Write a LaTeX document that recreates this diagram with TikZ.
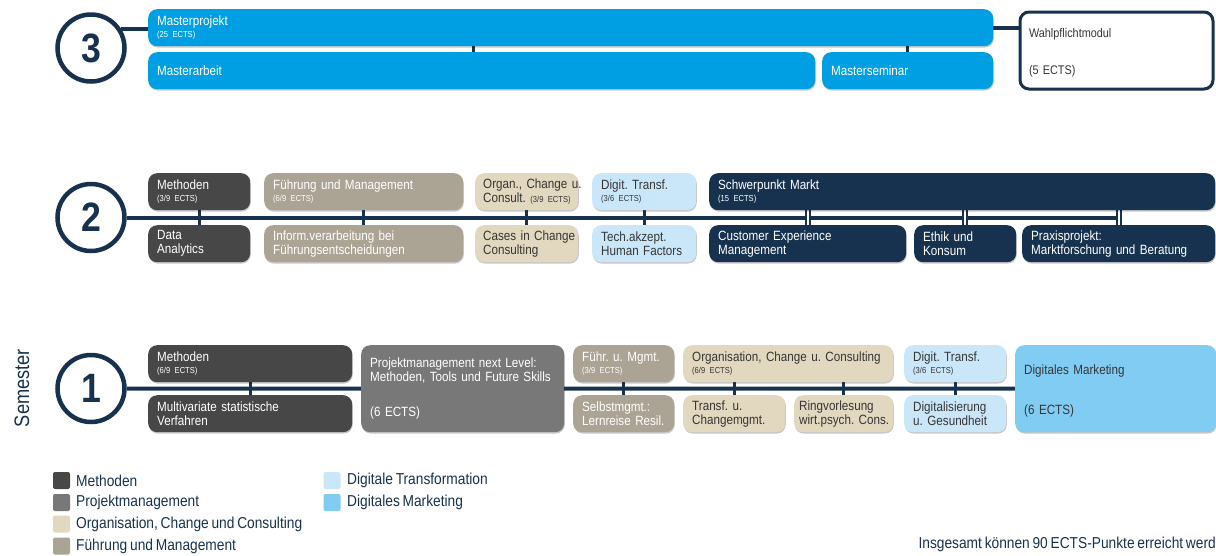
\documentclass[tikz,border=0pt]{standalone}
\usepackage{fontspec}
\setmainfont{Liberation Sans}[FakeStretch=0.87, WordSpace=0.72]
\usetikzlibrary{shadows,backgrounds}
\definecolor{mblue}{HTML}{009FE3}
\definecolor{navy}{HTML}{17324F}
\definecolor{dgray}{HTML}{474747}
\definecolor{mgray}{HTML}{787878}
\definecolor{taupe}{HTML}{ABA494}
\definecolor{beige}{HTML}{E2D7BF}
\definecolor{lblue}{HTML}{CAE7F9}
\definecolor{dmblue}{HTML}{80CCF2}
\definecolor{dtext}{HTML}{363636}
\newcommand\bxfont{\frenchspacing\fontsize{13.4}{14}\selectfont}
\newcommand\ectsx[1]{{\fontsize{8.7}{9}\selectfont(#1)}}
\hfuzz=50pt
\frenchspacing
\begin{document}
\begin{tikzpicture}[x=1pt,y=-1pt,
  mod/.style n args={4}{anchor=north west, fill=#3, text=#4, text width=#1,
    minimum height=#2, inner xsep=9pt, inner ysep=1pt, align=left,
    rounded corners=9pt, font=\bxfont,
    drop shadow={shadow xshift=0.6pt, shadow yshift=-1.4pt, opacity=0.22, fill=black}},
  semcirc/.style={circle, draw=navy, line width=4.5pt, fill=white, minimum size=67pt,
    inner sep=0pt, text=navy, font=\bfseries\fontsize{41}{41}\selectfont},
  conn/.style={draw=navy, line width=4pt},
  tick/.style={draw=navy, line width=3pt},
  dtick/.style={draw=navy, line width=2pt, double=white, double distance=2.4pt},
  legsq/.style={rectangle, rounded corners=2pt, minimum size=17pt, inner sep=0pt},
  legtx/.style={anchor=west, inner sep=0pt, text=navy, font=\frenchspacing\fontsize{15.8}{16}\selectfont}]
\useasboundingbox (0,0) rectangle (1216,555);

% ---------- Semester 3 ----------
\node[semcirc] (c3) at (91,48) {3};
\node[mod={827pt}{37pt}{mblue}{white}] (mp) at (148,9) {Masterprojekt\\[-2pt]\ectsx{25 ECTS}};
\node[mod={649pt}{37pt}{mblue}{white}] (ma) at (148,52) {Masterarbeit};
\node[mod={153pt}{37pt}{mblue}{white}] (ms) at (822,52) {Masterseminar};
\node[anchor=north west, draw=navy, line width=3pt, fill=white, rounded corners=9pt,
  text width=175pt, minimum height=77pt, inner xsep=9pt, align=left, text=dtext,
  font=\frenchspacing\fontsize{12.5}{14}\selectfont,
  drop shadow={shadow xshift=0.6pt, shadow yshift=-1.4pt, opacity=0.22, fill=black}]
  (wpm) at (1018.5,10.5) {\rule{0pt}{14pt}Wahlpflichtmodul\\[23pt](5 ECTS)};

% ---------- Semester 2 ----------
\node[semcirc] (c2) at (91,217.5) {2};
\node[mod={84pt}{37pt}{dgray}{white}] (m2) at (148,173) {Methoden\\[-2pt]\ectsx{3/9 ECTS}};
\node[mod={181pt}{37pt}{taupe}{white}] (fm2) at (264,173) {Führung und Management\\[-2pt]\ectsx{6/9 ECTS}};
\node[mod={87pt}{37pt}{beige}{dtext}, inner xsep=8pt] (oc2) at (475,173) {Organ.,~Change~u.\\Consult.~\ectsx{3/9~ECTS}};
\node[mod={86pt}{37pt}{lblue}{dtext}] (dt2) at (592,173) {Digit. Transf.\\[-2pt]\ectsx{3/6 ECTS}};
\node[mod={488pt}{37pt}{navy}{white}] (sp) at (709,173) {Schwerpunkt Markt\\[-2pt]\ectsx{15 ECTS}};

\node[mod={84pt}{37pt}{dgray}{white}] (da) at (148,225) {Data\\Analytics};
\node[mod={181pt}{37pt}{taupe}{white}] (iv) at (264,225) {Inform.verarbeitung bei\\Führungsentscheidungen};
\node[mod={87pt}{37pt}{beige}{dtext}, inner xsep=8pt] (cc) at (475,225) {Cases~in~Change\\Consulting};
\node[mod={86pt}{37pt}{lblue}{dtext}] (ta) at (592,225) {Tech.akzept.\\Human~Factors};
\node[mod={179pt}{37pt}{navy}{white}] (cem) at (709,225) {Customer Experience\\Management};
\node[mod={84pt}{37pt}{navy}{white}] (ek) at (914,225) {Ethik und\\Konsum};
\node[mod={175pt}{37pt}{navy}{white}] (pp) at (1022,225) {Praxisprojekt:\\Marktforschung~und~Beratung};

% ---------- Semester 1 ----------
\node[semcirc] (c1) at (91,388.5) {1};
\node[mod={186pt}{37pt}{dgray}{white}] (m1) at (148,345) {Methoden\\[-2pt]\ectsx{6/9 ECTS}};
\node[mod={185pt}{87pt}{mgray}{white}] (pm) at (361,345) {Projektmanagement next Level:\\Methoden,~Tools~und~Future~Skills\\[21pt](6 ECTS)};
\node[mod={83pt}{37pt}{taupe}{white}] (fu1) at (573,345) {Führ.~u.~Mgmt.\\[-2pt]\ectsx{3/9 ECTS}};
\node[mod={192pt}{37pt}{beige}{dtext}] (oc1) at (683,345) {Organisation,~Change~u.~Consulting\\[-2pt]\ectsx{6/9 ECTS}};
\node[mod={84pt}{37pt}{lblue}{dtext}] (dt1) at (904,345) {Digit. Transf.\\[-2pt]\ectsx{3/6 ECTS}};
\node[mod={183pt}{87pt}{dmblue}{dtext}] (dm) at (1015,345) {\rule{0pt}{14pt}Digitales Marketing\\[26pt](6 ECTS)};

\node[mod={186pt}{37pt}{dgray}{white}] (mv) at (148,395) {Multivariate statistische\\Verfahren};
\node[mod={83pt}{37pt}{taupe}{white}] (sl) at (573,395) {Selbstmgmt.:\\Lernreise~Resil.};
\node[mod={84pt}{37pt}{beige}{dtext}] (tc) at (683,395) {Transf. u.\\Changemgmt.};
\node[mod={89pt}{37pt}{beige}{dtext}, inner xsep=5pt] (rv) at (794,395) {Ringvorlesung\\wirt.psych.~Cons.};
\node[mod={84pt}{37pt}{lblue}{dtext}] (dg) at (904,395) {Digitalisierung\\u.~Gesundheit};

% ---------- connectors (behind boxes) ----------
\begin{scope}[on background layer]
  \draw[conn] (c3.33) -- (mp.west |- c3.33);
  \draw[conn] (mp.east) -- (mp.east -| wpm.west);
  \draw[tick] (473,0 |- mp.south) -- (473,0 |- ma.north);
  \draw[tick] (ms.north |- mp.south) -- (ms.north);

  \draw[conn] (c2.east) -- (pp.north |- c2.east);
  \draw[tick] (m2.south) -- (da.north);
  \draw[tick] (fm2.south) -- (iv.north);
  \draw[tick] (oc2.south) -- (cc.north);
  \draw[tick] (dt2.south) -- (ta.north);
  \draw[dtick] (cem.north |- sp.south) -- (cem.north);
  \draw[dtick] (ek.north |- sp.south) -- (ek.north);
  \draw[dtick] (pp.north |- sp.south) -- (pp.north);

  \draw[conn] (c1.east) -- (dm.west);
  \draw[tick] (m1.south) -- (mv.north);
  \draw[tick] (fu1.south) -- (sl.north);
  \draw[tick] (tc.north |- oc1.south) -- (tc.north);
  \draw[tick] (rv.north |- oc1.south) -- (rv.north);
  \draw[tick] (dt1.south) -- (dg.north);
\end{scope}

% ---------- labels ----------
\node[rotate=90, text=navy, font=\fontsize{21}{22}\selectfont, inner sep=0pt] (sem) at (22,388) {Semester};

\node[legsq, fill=dgray] (l1) at (61.5,480.5) {};
\node[legtx] (l1t) at (76,480.5) {Methoden};
\node[legsq, fill=mgray] (l2) at (61.5,502.5) {};
\node[legtx] (l2t) at (76,502.5) {Projektmanagement};
\node[legsq, fill=beige] (l3) at (61.5,524) {};
\node[legtx] (l3t) at (76,524) {Organisation, Change und Consulting};
\node[legsq, fill=taupe] (l4) at (61.5,546) {};
\node[legtx] (l4t) at (76,546) {Führung und Management};
\node[legsq, fill=lblue] (l5) at (332,480.5) {};
\node[legtx] (l5t) at (347,480.5) {Digitale Transformation};
\node[legsq, fill=dmblue] (l6) at (332,502.5) {};
\node[legtx] (l6t) at (347,502.5) {Digitales Marketing};

\node[anchor=east, inner sep=0pt, text=navy, font=\fontsize{15.8}{16}\selectfont] (tot) at (1216,544) {Insgesamt können 90 ECTS-Punkte erreicht werd};
\end{tikzpicture}
\end{document}
